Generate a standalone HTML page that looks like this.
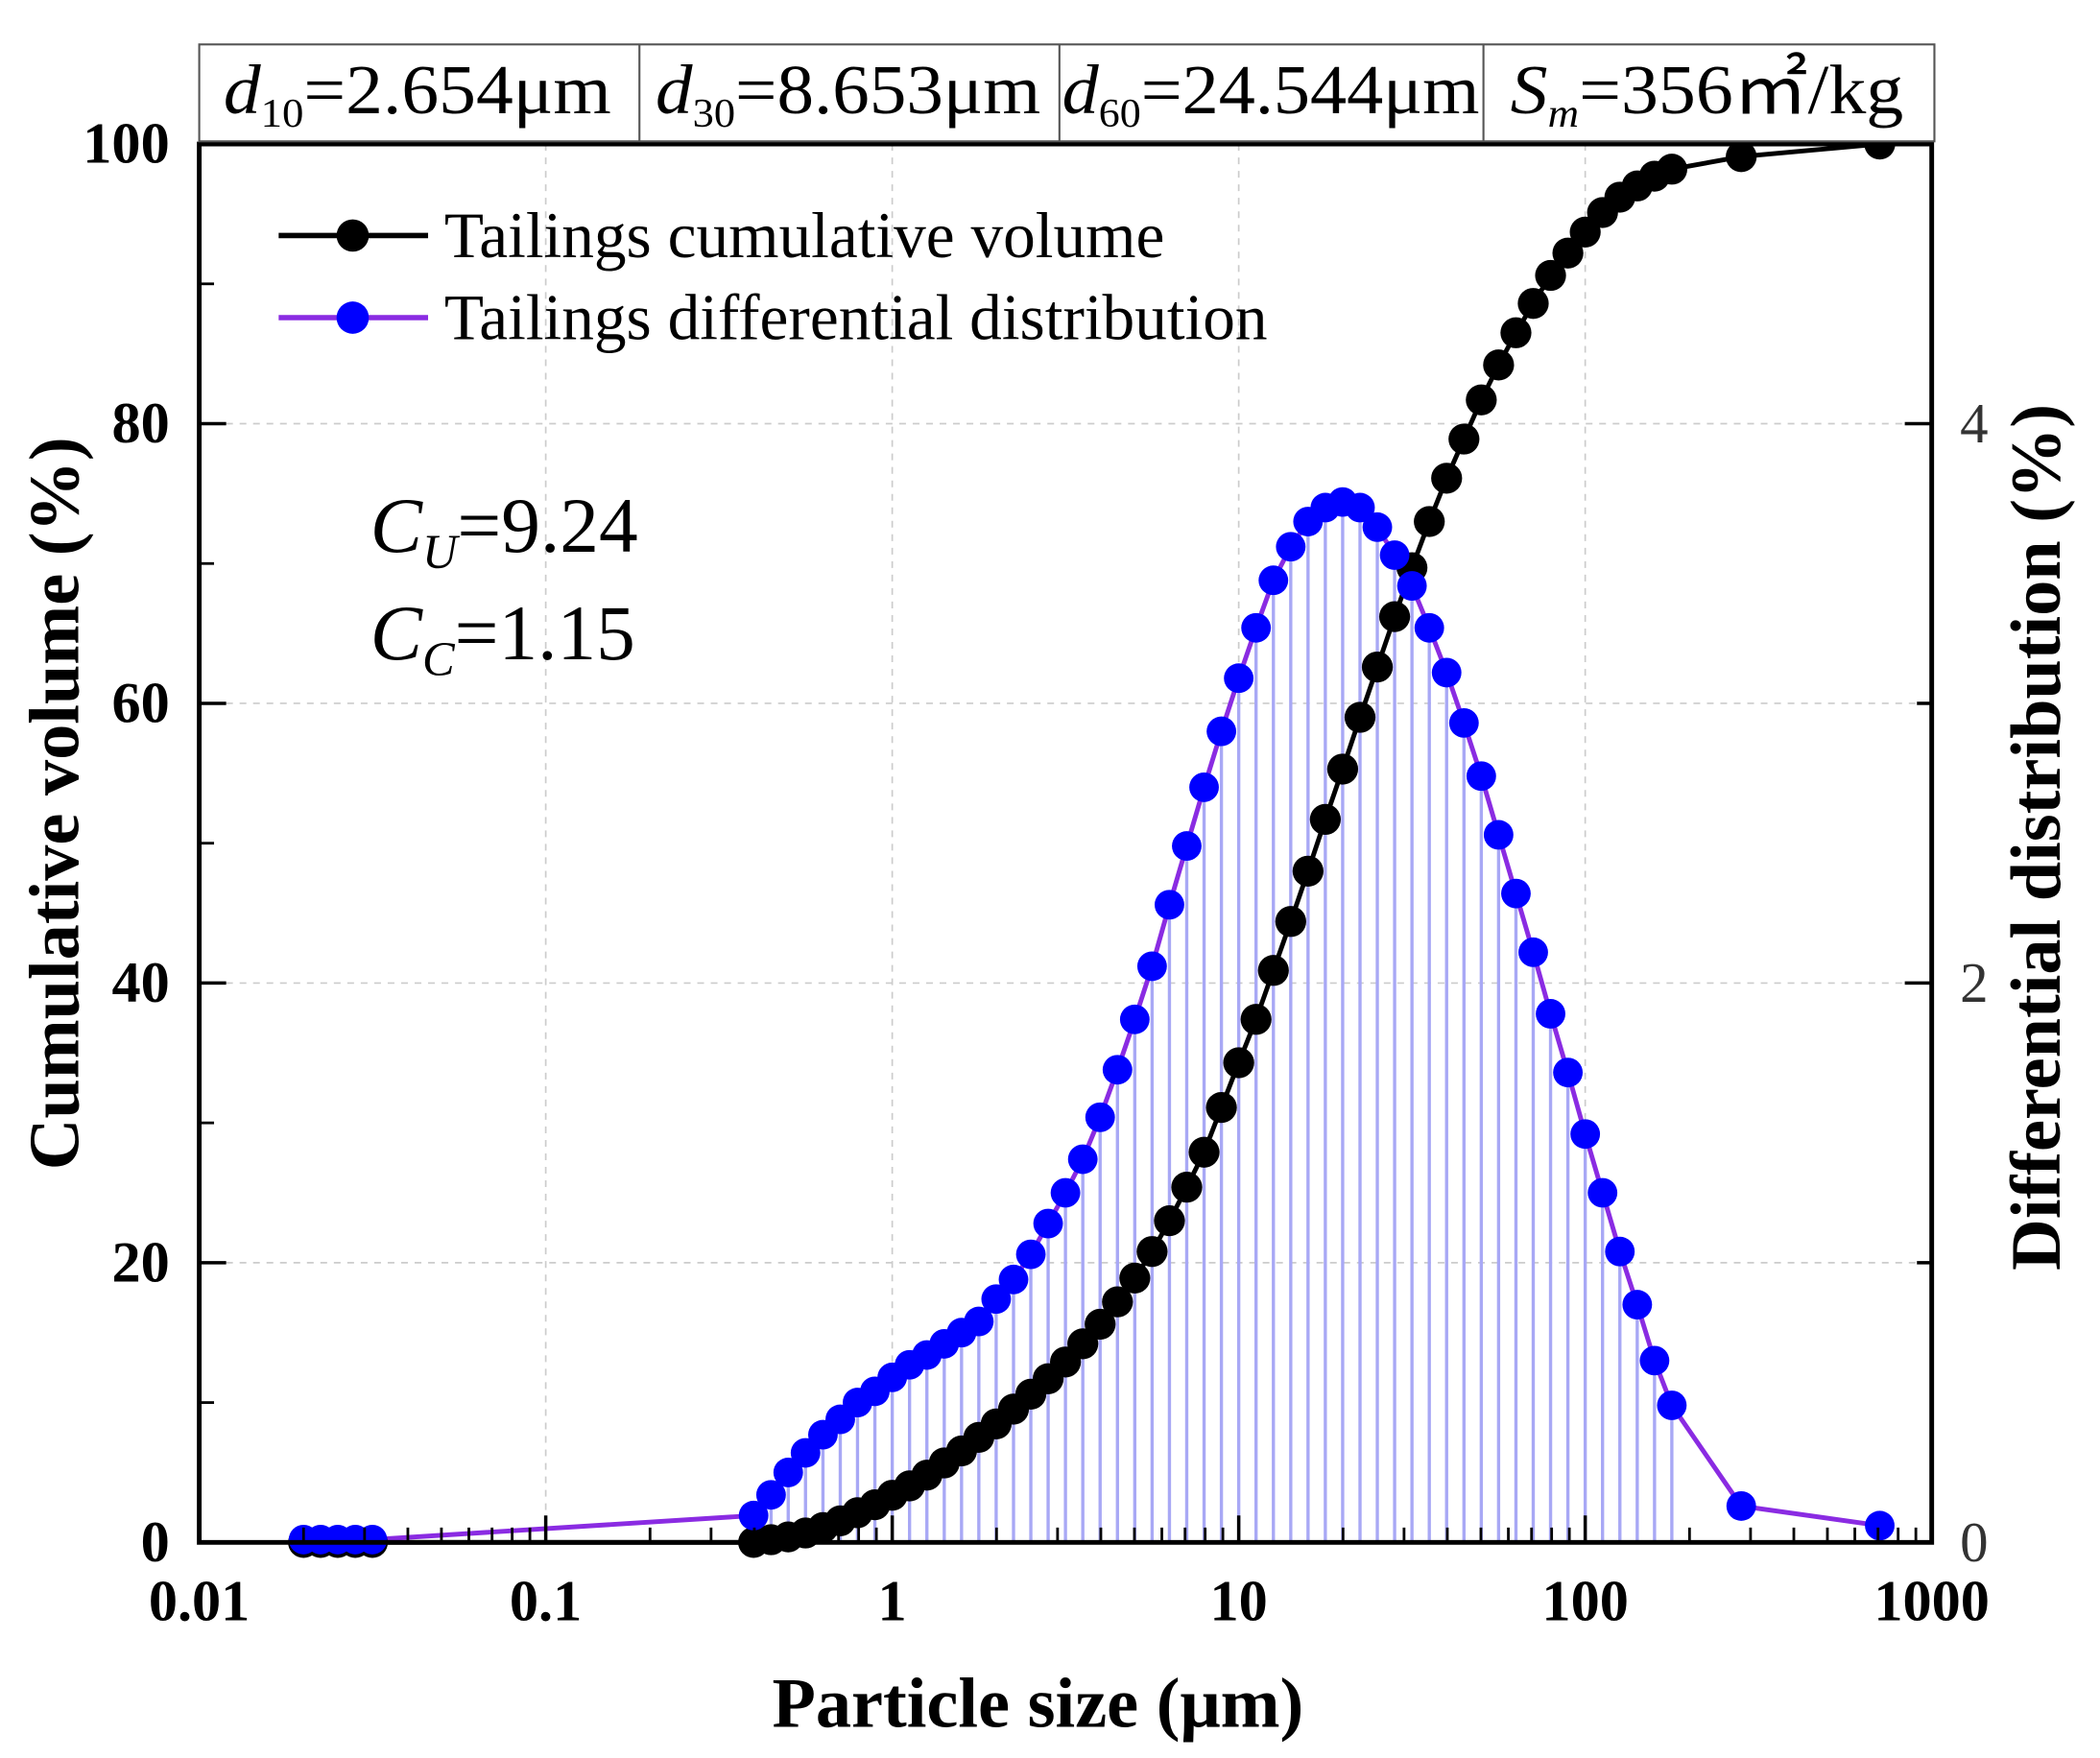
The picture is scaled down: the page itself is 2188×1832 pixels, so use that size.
<!DOCTYPE html>
<html><head><meta charset="utf-8"><style>
html,body{margin:0;padding:0;background:#fff;}
svg{display:block;}
</style></head><body>
<svg id="chart" width="2188" height="1832" viewBox="0 0 1560 1306.2" xmlns="http://www.w3.org/2000/svg" font-family="'Liberation Serif', serif">
<g id="grid"></g>
<g id="bars"></g>
<g id="series"></g>
<g id="axes"></g>
<g>
  <rect x="148" y="33" width="1289" height="72" fill="#fff" stroke="#555" stroke-width="1.5"/>
  <line x1="475" y1="33" x2="475" y2="105" stroke="#555" stroke-width="1.5"/>
  <line x1="787" y1="33" x2="787" y2="105" stroke="#555" stroke-width="1.5"/>
  <line x1="1102" y1="33" x2="1102" y2="105" stroke="#555" stroke-width="1.5"/>
  <text x="166" y="84" font-size="52" textLength="288" lengthAdjust="spacingAndGlyphs"><tspan font-style="italic">d</tspan><tspan font-size="30" dy="10">10</tspan><tspan dy="-10">=2.654μm</tspan></text>
  <text x="487" y="84" font-size="52" textLength="286" lengthAdjust="spacingAndGlyphs"><tspan font-style="italic">d</tspan><tspan font-size="30" dy="10">30</tspan><tspan dy="-10">=8.653μm</tspan></text>
  <text x="789" y="84" font-size="52" textLength="310" lengthAdjust="spacingAndGlyphs"><tspan font-style="italic">d</tspan><tspan font-size="30" dy="10">60</tspan><tspan dy="-10">=24.544μm</tspan></text>
  <text x="1122" y="84" font-size="52" textLength="292" lengthAdjust="spacingAndGlyphs"><tspan font-style="italic">S</tspan><tspan font-size="30" font-style="italic" dy="10">m</tspan><tspan dy="-10">=356㎡/kg</tspan></text>
</g>
<g>
  <g>
    <line x1="207" y1="175" x2="318" y2="175" stroke="#000" stroke-width="4"/>
    <circle cx="262" cy="175" r="12" fill="#000"/>
    <text x="330" y="191" font-size="48">Tailings cumulative volume</text>
  </g>
  <g>
    <line x1="207" y1="236" x2="318" y2="236" stroke="#8a2be2" stroke-width="4"/>
    <circle cx="262" cy="236" r="12" fill="#0000ff"/>
    <text x="330" y="252" font-size="48">Tailings differential distribution</text>
  </g>
</g>
<text x="275" y="410" font-size="58"><tspan font-style="italic">C</tspan><tspan font-style="italic" font-size="36" dy="12">U</tspan><tspan dy="-12">=9.24</tspan></text>
<text x="275" y="490" font-size="58"><tspan font-style="italic">C</tspan><tspan font-style="italic" font-size="36" dy="12">C</tspan><tspan dy="-12">=1.15</tspan></text>
<text x="771" y="1283" font-size="53" font-weight="bold" text-anchor="middle">Particle size (μm)</text>
<text transform="translate(58,597) rotate(-90)" font-size="53" font-weight="bold" text-anchor="middle">Cumulative volume (%)</text>
<text transform="translate(1530,622) rotate(-90)" font-size="53" font-weight="bold" text-anchor="middle">Differential distribution (%)</text>
</svg>
<script>
const sizes = [0.0200,0.0224,0.0251,0.0282,0.0316,
 0.398,0.447,0.501,0.562,0.631,0.708,0.794,0.891,1.000,1.122,1.259,1.413,1.585,1.778,1.995,2.239,2.512,2.818,3.162,3.548,3.981,4.467,5.012,5.623,6.310,7.079,7.943,8.913,10.00,11.22,12.59,14.13,15.85,17.78,19.95,22.39,25.12,28.18,31.62,35.48,39.81,44.67,50.12,56.23,63.10,70.79,79.43,89.13,100.0,112.2,125.9,141.3,158.5,177.8,
 282.0,708.0];
const diffValues = [0.01,0.01,0.01,0.01,0.01,
 0.096,0.17,0.25,0.32,0.385,0.44,0.50,0.54,0.59,0.635,0.67,0.71,0.75,0.79,0.87,0.94,1.03,1.14,1.25,1.37,1.52,1.69,1.87,2.06,2.28,2.49,2.70,2.90,3.09,3.27,3.44,3.56,3.65,3.70,3.72,3.70,3.63,3.53,3.42,3.27,3.11,2.93,2.74,2.53,2.32,2.11,1.89,1.68,1.46,1.25,1.04,0.85,0.65,0.49,
 0.13,0.06];
const cumValues = [0,0,0,0,0,
 0,0.19,0.39,0.67,1.06,1.54,2.12,2.69,3.37,4.04,4.81,5.68,6.54,7.51,8.47,9.53,10.6,11.7,12.9,14.2,15.6,17.2,18.9,20.8,23.0,25.4,27.9,31.1,34.3,37.4,40.9,44.4,48.0,51.7,55.3,59.0,62.6,66.2,69.7,73.0,76.1,78.9,81.7,84.2,86.5,88.6,90.6,92.2,93.7,95.1,96.2,97.0,97.7,98.2,
 99.1,100];
const xTicks = [0.01,0.1,1,10,100,1000];
const xTickLabels = ["0.01","0.1","1","10","100","1000"];
const yLeftTicks = [0,20,40,60,80,100];
const yRightTicks = [0,2,4];

const L=148,R=1435,T=107,B=1146;
const NS='http://www.w3.org/2000/svg';
function X(v){return L+(Math.log10(v)+2)/5*(R-L);}
function YL(v){return B-v/100*(B-T);}
function YR(v){return B-v/5*(B-T);}
function mk(tag,attrs,parent){const e=document.createElementNS(NS,tag);for(const k in attrs)e.setAttribute(k,attrs[k]);parent.appendChild(e);return e;}
const grid=document.getElementById('grid'),bars=document.getElementById('bars'),series=document.getElementById('series'),axes=document.getElementById('axes');

xTicks.forEach((t,i)=>{
  if(i>0&&i<xTicks.length-1){const g=mk('line',{x1:X(t),y1:T,x2:X(t),y2:B,stroke:'#ccc','stroke-width':1.2,'stroke-dasharray':'5,5'},grid);
  
  }
});
yLeftTicks.forEach((t,i)=>{
  if(i>0&&i<yLeftTicks.length-1){const g=mk('line',{x1:L,y1:YL(t),x2:R,y2:YL(t),stroke:'#ccc','stroke-width':1.2,'stroke-dasharray':'5,5'},grid);
  
  }
});

sizes.forEach((s,i)=>{
  if(s>=0.39&&s<=180){const b=mk('line',{x1:X(s),y1:B,x2:X(s),y2:YR(diffValues[i]),stroke:'#a8a8f5','stroke-width':2.4},bars);
  
  }
});

const cumPath=sizes.map((s,i)=>(i?'L':'M')+X(s)+','+YL(cumValues[i])).join(' ');
const cl=mk('path',{d:cumPath,fill:'none',stroke:'#000','stroke-width':3.5},series);


const diffPath=sizes.map((s,i)=>(i?'L':'M')+X(s)+','+YR(diffValues[i])).join(' ');
const dl=mk('path',{d:diffPath,fill:'none',stroke:'#8a2be2','stroke-width':3.5},series);


sizes.forEach((s,i)=>{
  const c=mk('circle',{cx:X(s),cy:YL(cumValues[i]),r:11.5,fill:'#000'},series);
  
  
});
sizes.forEach((s,i)=>{
  const c=mk('circle',{cx:X(s),cy:YR(diffValues[i]),r:11,fill:'#0000ff'},series);
  
  
});

const fr=mk('rect',{x:L,y:T,width:R-L,height:B-T,fill:'none',stroke:'#000','stroke-width':3.5},axes);


xTicks.forEach((t,i)=>{
  mk('line',{x1:X(t),y1:B,x2:X(t),y2:B-20,stroke:'#000','stroke-width':2.5},axes);
  if(i<xTicks.length-1){for(let m=2;m<10;m++){mk('line',{x1:X(t*m),y1:B,x2:X(t*m),y2:B-11,stroke:'#000','stroke-width':2},axes);}}
  const tl=mk('text',{x:X(t),y:1204,'font-size':43,'font-weight':'bold','text-anchor':'middle'},axes);
  tl.textContent=xTickLabels[i];
  
  
});
yLeftTicks.forEach(t=>{
  mk('line',{x1:L,y1:YL(t),x2:L+20,y2:YL(t),stroke:'#000','stroke-width':2.5},axes);
  if(t<100){mk('line',{x1:L,y1:YL(t+10),x2:L+11,y2:YL(t+10),stroke:'#000','stroke-width':2},axes);}
  const tl=mk('text',{x:126,y:YL(t)+14,'font-size':43,'font-weight':'bold','text-anchor':'end'},axes);
  tl.textContent=String(t);
  
  
});
[0,1,2,3,4,5].forEach(t=>{mk('line',{x1:R,y1:YR(t),x2:R-(t%2===0?20:11),y2:YR(t),stroke:'#000','stroke-width':2.5},axes);});
yRightTicks.forEach(t=>{
  const tl=mk('text',{x:1456,y:YR(t)+14,'font-size':42,fill:'#333'},axes);
  tl.textContent=String(t);
  
  
});
</script>
</body></html>
